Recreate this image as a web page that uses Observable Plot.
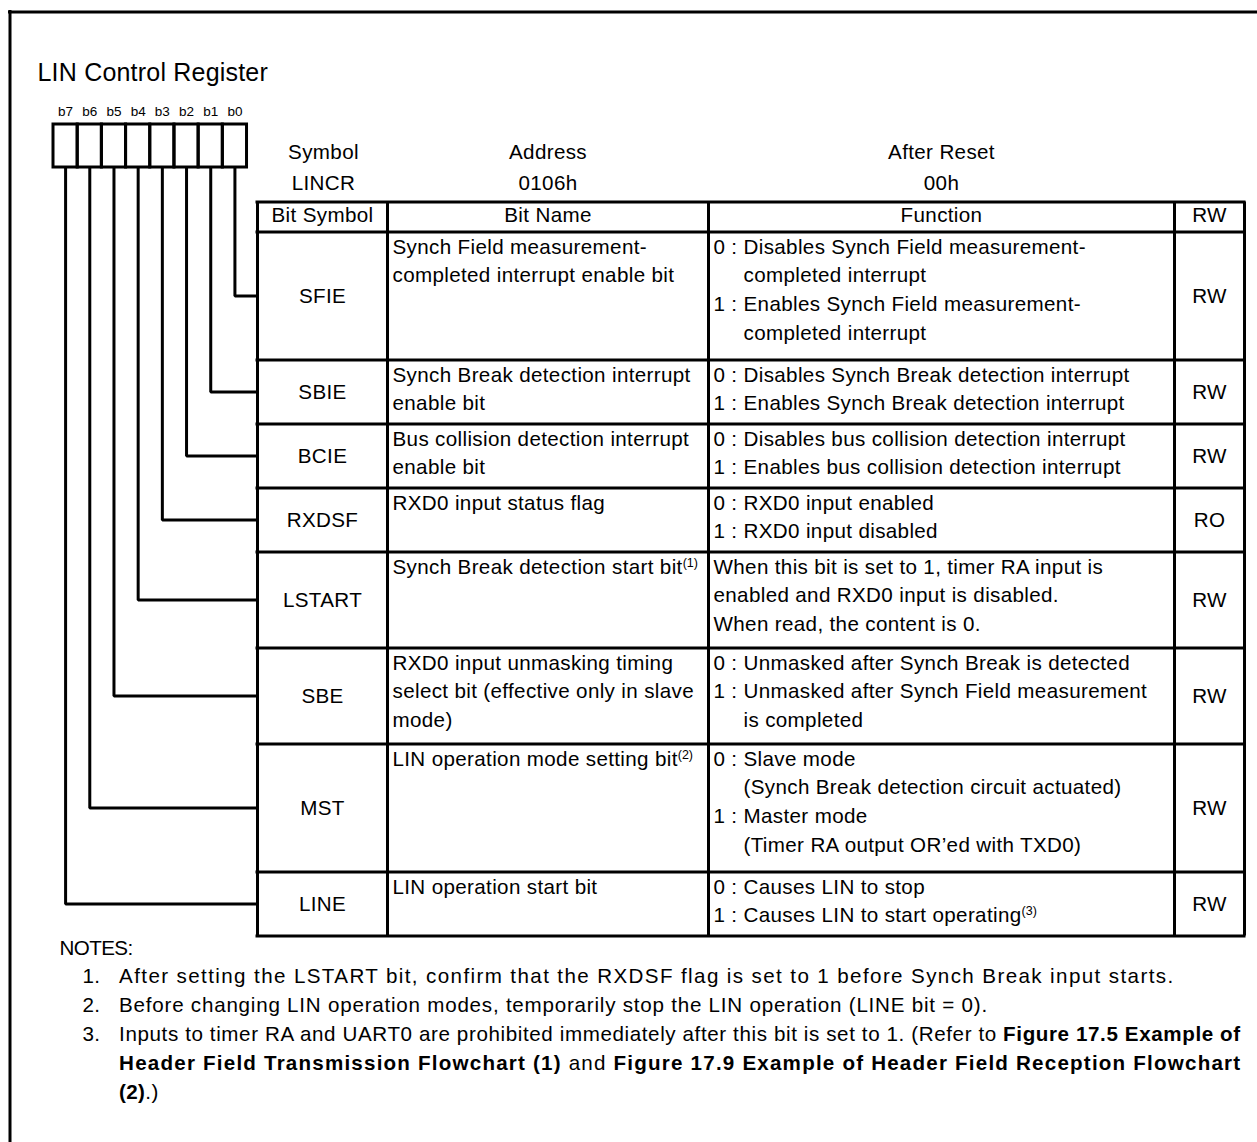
<!DOCTYPE html>
<html>
<head>
<meta charset="utf-8">
<script src="https://cdn.jsdelivr.net/npm/d3@7"></script>
<script src="https://cdn.jsdelivr.net/npm/@observablehq/plot@0.6"></script>
<style>
  html, body { margin: 0; padding: 0; background: #fff; overflow: hidden; }
  #chart svg { display: block; }
</style>
</head>
<body>
<div id="chart"></div>
<script>
// ---------------- data ----------------
const registerTitle = "LIN Control Register";
const bitLabels = ["b7", "b6", "b5", "b4", "b3", "b2", "b1", "b0"];
const headerLabels = ["Symbol", "Address", "After Reset"];
const headerValues = ["LINCR", "0106h", "00h"];
const columnHeads = ["Bit Symbol", "Bit Name", "Function", "RW"];
// rows in table order: b0 ... b7
const bitSymbols = ["SFIE", "SBIE", "BCIE", "RXDSF", "LSTART", "SBE", "MST", "LINE"];
const bitNames = [
  ["Synch Field measurement-", "completed interrupt enable bit"],
  ["Synch Break detection interrupt", "enable bit"],
  ["Bus collision detection interrupt", "enable bit"],
  ["RXD0 input status flag"],
  ["Synch Break detection start bit^{(1)}"],
  ["RXD0 input unmasking timing", "select bit (effective only in slave", "mode)"],
  ["LIN operation mode setting bit^{(2)}"],
  ["LIN operation start bit"]
];
// "\t" = continuation line (indented under the text after "0 : ")
const bitFunctions = [
  ["0 : Disables Synch Field measurement-", "\tcompleted interrupt", "1 : Enables Synch Field measurement-", "\tcompleted interrupt"],
  ["0 : Disables Synch Break detection interrupt", "1 : Enables Synch Break detection interrupt"],
  ["0 : Disables bus collision detection interrupt", "1 : Enables bus collision detection interrupt"],
  ["0 : RXD0 input enabled", "1 : RXD0 input disabled"],
  ["When this bit is set to 1, timer RA input is", "enabled and RXD0 input is disabled.", "When read, the content is 0."],
  ["0 : Unmasked after Synch Break is detected", "1 : Unmasked after Synch Field measurement", "\tis completed"],
  ["0 : Slave mode", "\t(Synch Break detection circuit actuated)", "1 : Master mode", "\t(Timer RA output OR\u2019ed with TXD0)"],
  ["0 : Causes LIN to stop", "1 : Causes LIN to start operating^{(3)}"]
];
const bitAccess = ["RW", "RW", "RW", "RO", "RW", "RW", "RW", "RW"];
const notesHeading = "NOTES:";
const notes = [
  ["After setting the LSTART bit, confirm that the RXDSF flag is set to 1 before Synch Break input starts."],
  ["Before changing LIN operation modes, temporarily stop the LIN operation (LINE bit = 0)."],
  ["Inputs to timer RA and UART0 are prohibited immediately after this bit is set to 1. (Refer to **Figure 17.5 Example of**",
   "**Header Field Transmission Flowchart (1)** and **Figure 17.9 Example of Header Field Reception Flowchart**",
   "**(2)**.)"]
];

// ---------------- layout ----------------
const W = 1257, H = 1142;
const FONT = "'Liberation Sans', Arial, Helvetica, sans-serif";
const LAY = {
  frameX: 9.5, frameY: 11.5,
  titleX: 37, titleY: 72.5, titleSize: 25, titleSpacing: 0.2,
  boxX0: 53, boxCell: 24.19, boxY1: 124, boxY2: 167, bitLabelY: 111, bitLabelSize: 13.5,
  headerX: [323, 547.5, 941], headerY1: 152, headerY2: 183,
  colX: [257, 387, 708, 1174, 1244],
  tableTop: 201.5, headBottom: 231.5, headTextY: 215,
  rowUnit: 32, firstLine: 15, lineStep: 28.8,
  nameX: 392, funcX: 713, funcIndentX: 743,
  bodySize: 20.6, bodySpacing: 0.35, supSize: 12.5,
  notesHeadX: 59, notesHeadY: 948, notesHeadSpacing: -0.6, noteNumX: 82, noteTextX: 118.6,
  noteY0: 976, noteStep: 29,
  noteRight: [1173, 987, 1240, 1240, null]   // right edge of each note line (null = ragged)
};

// row geometry from line counts
const rowTops = [LAY.headBottom];
bitSymbols.forEach((s, i) => {
  const n = Math.max(bitNames[i].length, bitFunctions[i].length);
  rowTops.push(rowTops[i] + LAY.rowUnit * n);
});
const tableBottom = rowTops[rowTops.length - 1];
const rowMid = i => (rowTops[i] + rowTops[i + 1]) / 2;
const colMid = j => (LAY.colX[j] + LAY.colX[j + 1]) / 2;
const cellCenter = j => LAY.boxX0 + (j + 0.5) * LAY.boxCell;

// ---------------- derived mark tables ----------------
const boxCells = bitLabels.map((b, j) => ({
  b, x1: LAY.boxX0 + j * LAY.boxCell, x2: LAY.boxX0 + (j + 1) * LAY.boxCell, x: cellCenter(j)
}));
const leads = [];
bitSymbols.forEach((s, i) => {
  const cx = cellCenter(7 - i), y = rowMid(i);
  leads.push({bit: s, x: cx, y: LAY.boxY2});
  leads.push({bit: s, x: cx, y});
  leads.push({bit: s, x: LAY.colX[0], y});
});

const centered = [];
headerLabels.forEach((t, j) => {
  centered.push({x: LAY.headerX[j], y: LAY.headerY1, text: t});
  centered.push({x: LAY.headerX[j], y: LAY.headerY2, text: headerValues[j]});
});
columnHeads.forEach((t, j) => centered.push({x: colMid(j), y: LAY.headTextY, text: t}));
bitSymbols.forEach((s, i) => {
  centered.push({x: colMid(0), y: rowMid(i), text: s});
  centered.push({x: colMid(3), y: rowMid(i), text: bitAccess[i]});
});

const leftTexts = [];
bitNames.forEach((lines, i) => lines.forEach((t, k) =>
  leftTexts.push({x: LAY.nameX, y: rowTops[i] + LAY.firstLine + k * LAY.lineStep, text: t})));
bitFunctions.forEach((lines, i) => lines.forEach((t, k) => {
  const indent = t.startsWith("\t");
  leftTexts.push({x: indent ? LAY.funcIndentX : LAY.funcX,
    y: rowTops[i] + LAY.firstLine + k * LAY.lineStep, text: indent ? t.slice(1) : t});
}));

const noteNums = [], noteLines = [];
const noteTarget = new Map();
let ln = 0;
notes.forEach((lines, i) => {
  noteNums.push({x: LAY.noteNumX, y: LAY.noteY0 + ln * LAY.noteStep, text: `${i + 1}.`});
  lines.forEach((t) => {
    noteLines.push({x: LAY.noteTextX, y: LAY.noteY0 + ln * LAY.noteStep, text: t});
    if (LAY.noteRight[ln] != null) noteTarget.set(t, LAY.noteRight[ln] - LAY.noteTextX);
    ln++;
  });
});

const stroke = "#000";
const txt = (data, opts) => Plot.text(data, {x: "x", y: "y", text: "text", fill: "#000",
  fontFamily: FONT, fontSize: LAY.bodySize, lineAnchor: "middle", ...opts});

const chart = Plot.plot({
  width: W, height: H, margin: 0,
  x: {domain: [0, W], range: [0, W], axis: null},
  y: {domain: [0, H], range: [0, H], axis: null},
  style: {background: "#fff", fontFamily: FONT},
  marks: [
    // outer frame (top and left edges; it continues beyond the picture)
    Plot.ruleY([LAY.frameY], {x1: LAY.frameX - 1.5, x2: W + 5, stroke, strokeWidth: 3}),
    Plot.ruleX([LAY.frameX], {y1: LAY.frameY - 1.5, y2: H + 5, stroke, strokeWidth: 3}),
    // title
    txt([{x: LAY.titleX, y: LAY.titleY, text: registerTitle}], {textAnchor: "start", fontSize: LAY.titleSize}),
    // register bit boxes and labels
    Plot.rect(boxCells, {x1: "x1", x2: "x2", y1: () => LAY.boxY1, y2: () => LAY.boxY2, fill: "none", stroke, strokeWidth: 3}),
    Plot.text(boxCells, {x: "x", y: () => LAY.bitLabelY, text: "b", fontSize: LAY.bitLabelSize, fontFamily: FONT, fill: "#000"}),
    // lead lines
    Plot.line(leads, {x: "x", y: "y", z: "bit", stroke, strokeWidth: 3, strokeLinejoin: "miter", strokeLinecap: "butt"}),
    // table grid
    Plot.ruleX(LAY.colX, {y1: LAY.tableTop, y2: tableBottom, stroke, strokeWidth: 3}),
    Plot.ruleY([LAY.tableTop, ...rowTops], {x1: LAY.colX[0] - 1.5, x2: LAY.colX[4] + 1.5, stroke, strokeWidth: 3}),
    // texts
    txt(centered, {textAnchor: "middle"}),
    txt(leftTexts, {textAnchor: "start"}),
    txt([{x: LAY.notesHeadX, y: LAY.notesHeadY, text: notesHeading}], {textAnchor: "start"}),
    txt(noteNums, {textAnchor: "start"}),
    txt(noteLines, {textAnchor: "start"})
  ]
});
document.getElementById("chart").appendChild(chart);

// ---------------- text styling: spacing, bold runs, superscripts ----------------
const svg = d3.select(chart);
const spacingOf = new Map([[registerTitle, LAY.titleSpacing], [notesHeading, LAY.notesHeadSpacing], ...bitLabels.map(b => [b, 0])]);
const NS = "http://www.w3.org/2000/svg";
svg.selectAll("text").each(function() {
  const s = this.textContent;
  this.setAttribute("letter-spacing", (spacingOf.has(s) ? spacingOf.get(s) : LAY.bodySpacing) + "px");
  const target = noteTarget.get(s);
  if (/\*\*|\^\{/.test(s)) {
    this.textContent = "";
    const re = /\*\*(.+?)\*\*|\^\{(.+?)\}|([^*^]+)/g;
    let m;
    while ((m = re.exec(s))) {
      const t = document.createElementNS(NS, "tspan");
      if (m[1] !== undefined) { t.textContent = m[1]; t.setAttribute("font-weight", "bold"); }
      else if (m[2] !== undefined) { t.textContent = m[2]; t.setAttribute("font-size", LAY.supSize); t.setAttribute("dy", "-7"); t.setAttribute("letter-spacing", "0px"); }
      else t.textContent = m[3];
      this.appendChild(t);
    }
  }
  if (target != null) {
    this.setAttribute("textLength", target);
    this.setAttribute("lengthAdjust", "spacing");
  }
});
</script>
</body>
</html>
